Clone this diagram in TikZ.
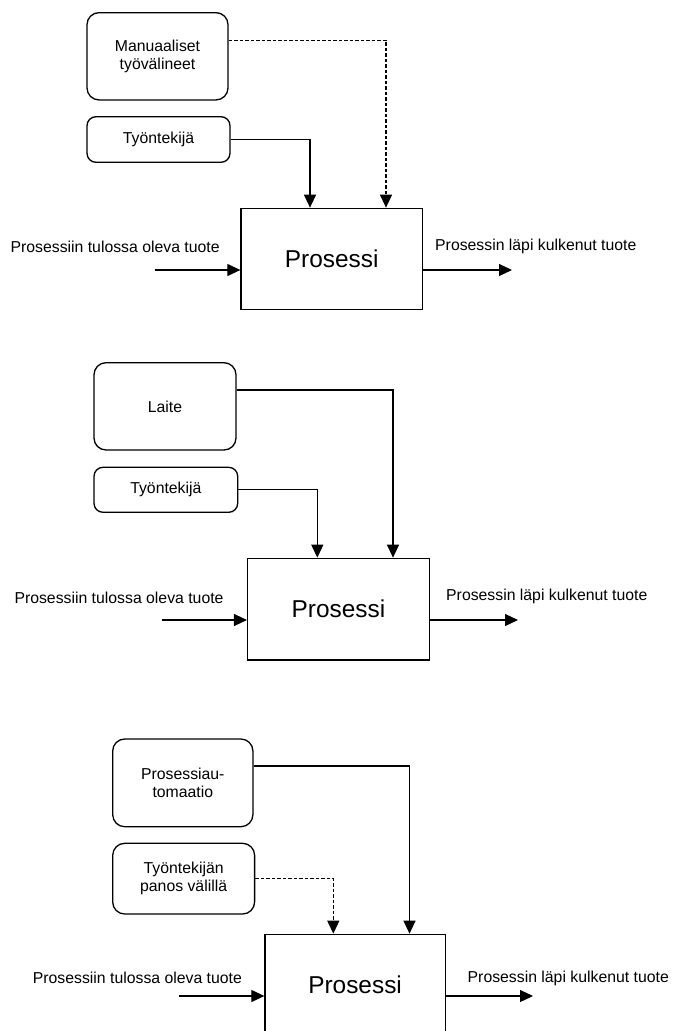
\documentclass[tikz,border=0pt]{standalone}
\usepackage{fontspec}
\setmainfont{Liberation Sans}
\usetikzlibrary{arrows.meta}
\begin{document}
\begin{tikzpicture}[x=1pt,y=-1pt,
  rbox/.style={draw,line width=1.3pt,rounded corners=12pt,align=center,inner sep=0pt,font=\fontsize{15.8}{18}\selectfont},
  sbox/.style={draw,line width=1.3pt,rounded corners=9pt,align=center,inner sep=0pt,font=\fontsize{15.8}{18}\selectfont},
  pbox/.style={draw,line width=1.3pt,inner sep=0pt,font=\fontsize{24.4}{28}\selectfont},
  lbl/.style={anchor=west,inner sep=0pt,font=\fontsize{15.8}{18}\selectfont},
  arr/.style={line width=1.2pt,-{Triangle[length=13pt,width=12pt]}},
  dsh/.style={dash pattern=on 3.5pt off 2pt}]
\clip (0,0) rectangle (674,1031);
% Panel 1
\node[rbox,minimum width=141pt,minimum height=87.3pt] (m1) at (157.5,56.3) {Manuaaliset\\työvälineet};
\node[sbox,minimum width=143pt,minimum height=45.6pt] (w1) at (158.5,139.5) {Työntekijä};
\node[pbox,minimum width=181.5pt,minimum height=101pt] (p1) at (331.75,258.8) {Prosessi};
\draw[arr] (w1.east) -| ([xshift=-21.75pt]p1.north);
\draw[arr,dsh] ([yshift=16pt]m1.east) -| ([xshift=54.25pt]p1.north);
\coordinate (in1) at (154.5,270);
\coordinate (out1) at (512,270);
\draw[arr] (in1) -- (in1 -| p1.west);
\draw[arr] (p1.east |- out1) -- (out1);
\node[lbl] (li1) at (10.4,246.7) {Prosessiin tulossa oleva tuote};
\node[lbl] (lo1) at (435,246.7) {Prosessin läpi kulkenut tuote};
% Panel 2
\node[rbox,minimum width=142pt,minimum height=87.3pt] (l2) at (165,406.35) {Laite};
\node[sbox,minimum width=143.7pt,minimum height=45pt] (w2) at (165.85,489.8) {Työntekijä};
\node[pbox,minimum width=181.8pt,minimum height=101.7pt] (p2) at (338.5,609.15) {Prosessi};
\draw[arr] (w2.east) -| ([xshift=-21.2pt]p2.north);
\draw[arr] ([yshift=16.35pt]l2.east) -| ([xshift=54.5pt]p2.north);
\coordinate (in2) at (161.5,620);
\coordinate (out2) at (518,620);
\draw[arr] (in2) -- (in2 -| p2.west);
\draw[arr] (p2.east |- out2) -- (out2);
\node[lbl] (li2) at (14.3,598) {Prosessiin tulossa oleva tuote};
\node[lbl] (lo2) at (446,596.7) {Prosessin läpi kulkenut tuote};
% Panel 3
\node[rbox,minimum width=140.2pt,minimum height=87.7pt] (a3) at (182.8,782.85) {Prosessiau-\\tomaatio};
\node[rbox,minimum width=141.9pt,minimum height=70.7pt] (w3) at (183.65,878.65) {Työntekijän\\panos välillä};
\node[pbox,minimum width=180.2pt,minimum height=101.4pt] (p3) at (355.1,985) {Prosessi};
\draw[arr,dsh] (w3.east) -| ([xshift=-21.8pt]p3.north);
\draw[arr] ([yshift=16.85pt]a3.east) -| ([xshift=54.4pt]p3.north);
\coordinate (in3) at (179.4,996);
\coordinate (out3) at (533,996);
\draw[arr] (in3) -- (in3 -| p3.west);
\draw[arr] (p3.east |- out3) -- (out3);
\node[lbl] (li3) at (32.7,978) {Prosessiin tulossa oleva tuote};
\node[lbl] (lo3) at (467.5,978) {Prosessin läpi kulkenut tuote};
\end{tikzpicture}
\end{document}
